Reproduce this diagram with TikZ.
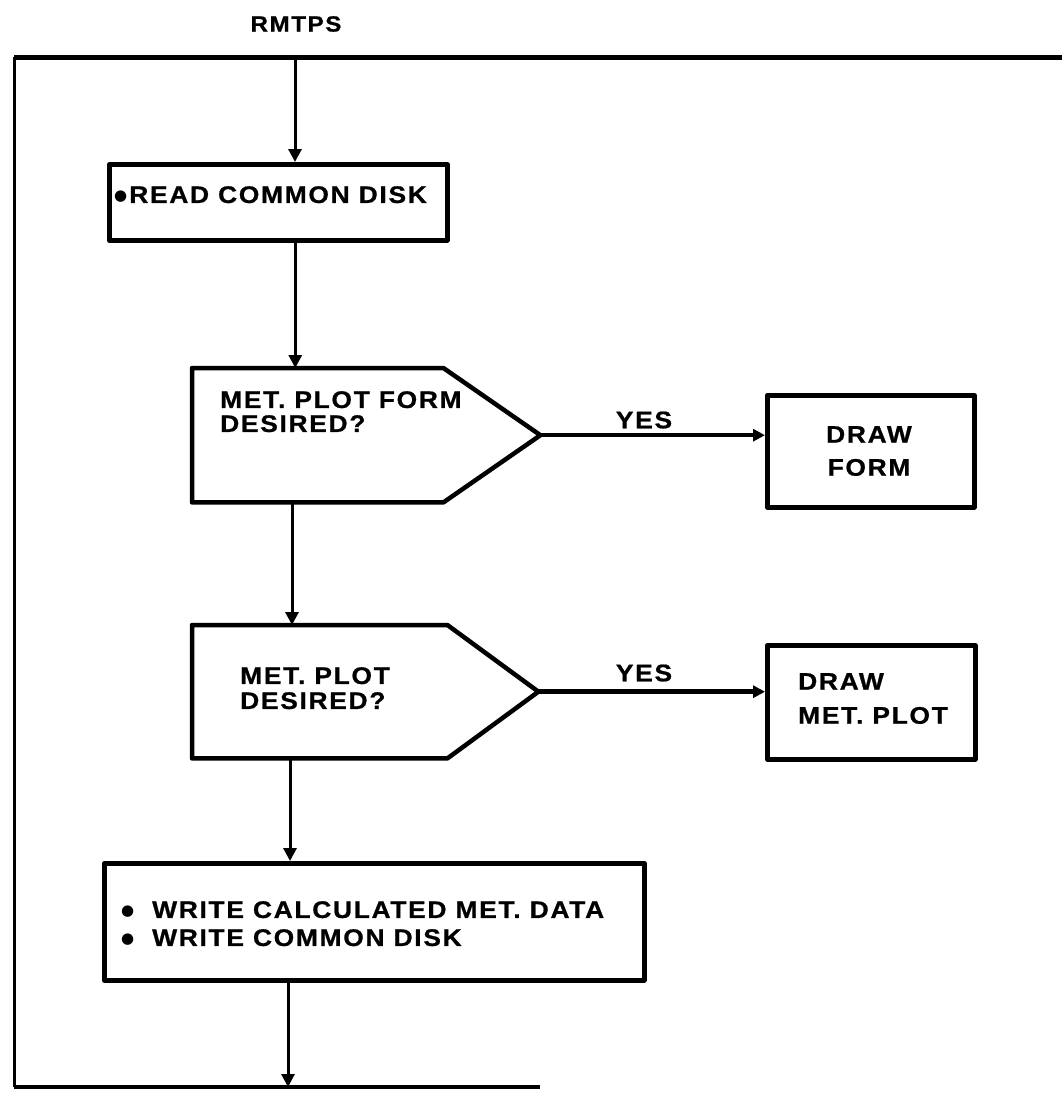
\documentclass[tikz,border=0pt]{standalone}
\usepackage{fontspec}
\setmainfont{Liberation Sans}[FakeStretch=1.1, LetterSpace=7, BoldFeatures={FakeBold=0.8}]
\newfontfamily\symf{DejaVu Sans}
\newcommand{\bigdot}{\raisebox{2.5pt}{\symf\fontsize{15}{15}\selectfont ●}}
\usetikzlibrary{arrows.meta}
\begin{document}
\begin{tikzpicture}[x=1pt,y=-1pt,
  boxst/.style={draw, line width=4.5pt, inner sep=0pt, line join=round},
  lbl/.style={font=\bfseries\fontsize{24}{25}\selectfont, align=left, inner sep=0pt},
  arr/.style={line width=3pt, -{Triangle[length=13pt,width=13pt]}},
  yesarr/.style={line width=4.5pt, -{Triangle[length=12pt,width=12pt]}},
]
\useasboundingbox (0,0) rectangle (1062,1093);
% title
\node[lbl, font=\bfseries\fontsize{22}{24}\selectfont] (title) at (296,24) {RMTPS};
% loop frame
\coordinate (tl) at (14,57);
\coordinate (tr) at (1062,57);
\coordinate (bl) at (14,1087);
\coordinate (br) at (540,1087);
\draw[line width=5pt] (tr) -- (tl);
\draw[line width=3pt] (tl) -- (bl);
\draw[line width=4pt] (bl) -- (br);
\coordinate (tin) at (295,57);
\coordinate (bout) at (288,1087);

% read box
\node[boxst, minimum width=338pt, minimum height=76pt, anchor=north west] (read) at (107,162) {};
\node[lbl, anchor=north west] (readt) at (114,186) {\bigdot\hspace{2pt}READ COMMON DISK};

% question 1
\node[inner sep=0pt, minimum width=348pt, minimum height=134pt, anchor=north west] (q1) at (192,368) {};
\draw[boxst] (q1.north west) -- ([xshift=-97pt]q1.north east) -- (q1.east) -- ([xshift=-97pt]q1.south east) -- (q1.south west) -- cycle;
\node[lbl, anchor=north west, font=\bfseries\fontsize{24}{24}\selectfont] (q1t) at (220,391) {MET. PLOT FORM\\DESIRED?};

% question 2
\node[inner sep=0pt, minimum width=346pt, minimum height=133pt, anchor=north west] (q2) at (192,625) {};
\draw[boxst] (q2.north west) -- ([xshift=-91pt]q2.north east) -- (q2.east) -- ([xshift=-91pt]q2.south east) -- (q2.south west) -- cycle;
\node[lbl, anchor=north west, font=\bfseries\fontsize{24}{25}\selectfont] (q2t) at (240,667) {MET. PLOT\\DESIRED?};

% draw form
\node[boxst, minimum width=207pt, minimum height=112pt, anchor=north west] (dform) at (765,393) {};
\node[lbl, anchor=north, align=center, font=\bfseries\fontsize{24}{33}\selectfont] (dformt) at (869,426) {DRAW\\FORM};

% draw met plot
\node[boxst, minimum width=208pt, minimum height=114pt, anchor=north west] (dplot) at (765,643) {};
\node[lbl, anchor=north west, font=\bfseries\fontsize{24}{34}\selectfont] (dplott) at (798,673) {DRAW\\MET. PLOT};

% write box
\node[boxst, minimum width=540pt, minimum height=117pt, anchor=north west] (write) at (102,861) {};
\node[lbl, anchor=north west, font=\bfseries\fontsize{24}{28}\selectfont] (writet) at (121,901)
  {\makebox[31pt][l]{\bigdot}WRITE CALCULATED MET. DATA\\\makebox[31pt][l]{\bigdot}WRITE COMMON DISK};

% YES labels
\node[lbl] (yes1) at (644,420) {YES};
\node[lbl] (yes2) at (644,673) {YES};

% connectors
\draw[arr] (tin) -- (tin |- read.north);
\draw[arr] ([xshift=17pt]read.south) -- ([xshift=17pt]read.south |- q1.north);
\draw[arr] ([xshift=100pt]q1.south west) -- ([xshift=100pt]q1.south west |- q2.north);
\draw[arr] ([xshift=98pt]q2.south west) -- ([xshift=98pt]q2.south west |- write.north);
\draw[arr] (bout |- write.south) -- (bout);
\draw[yesarr] (q1.east) -- (q1.east -| dform.west);
\draw[yesarr] (q2.east) -- (q2.east -| dplot.west);
\end{tikzpicture}
\end{document}
